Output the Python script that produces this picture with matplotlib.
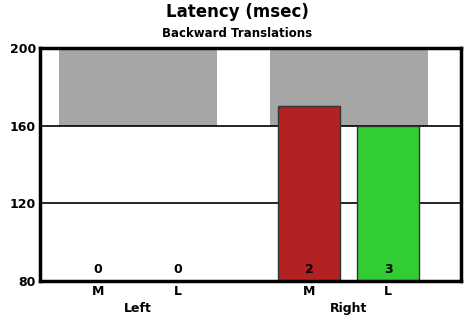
import matplotlib.pyplot as plt
import numpy as np
from matplotlib.transforms import blended_transform_factory

# data
sides = ["Left", "Right"]
tick_labels = ["M", "L", "M", "L"]
latency = [80, 80, 170, 160]
counts = [0, 0, 2, 3]
bar_colors = ["#1a1a1a", "#1a1a1a", "#B22222", "#32CD32"]
norm_low = 160
norm_high = 200

pos = np.array([0, 1, 2.64, 3.63])
group_pos = [0.5, 3.14]

fig = plt.figure(figsize=(4.75, 3.25), dpi=100)
ax = fig.add_axes([0.0842, 0.1354, 0.8863, 0.7169])
plt.rcParams['font.family'] = ['DejaVu Sans']

# normal range bands
for g in group_pos:
    ax.bar(g, norm_high - norm_low, width=1.98, bottom=norm_low, color="#A6A6A6", zorder=1)

for y in [120, 160]:
    ax.axhline(y, color="black", lw=1.2, zorder=2)

heights = [v - 80 for v in latency]
ax.bar(pos, heights, width=0.78, bottom=80, color=bar_colors,
       edgecolor="#333333", linewidth=1, zorder=3)

for p, c in zip(pos, counts):
    ax.text(p, 86, str(c), ha="center", va="center", fontsize=9, fontweight="bold", zorder=4)

ax.set_xlim(-0.725, 4.54)
ax.set_ylim(80, 200)
ax.set_yticks([80, 120, 160, 200])
ax.set_yticklabels(["80", "120", "160", "200"], fontsize=9, fontweight="bold")
ax.set_xticks(pos)
ax.set_xticklabels(tick_labels, fontsize=9, fontweight="bold")
ax.tick_params(length=0, pad=3)
for s in ax.spines.values():
    s.set_linewidth(2.5)
    s.set_color("black")
    s.set_zorder(5)

trans = blended_transform_factory(ax.transData, ax.transAxes)
for g, name in zip(group_pos, sides):
    ax.text(g, -0.12, name, transform=trans, ha="center", va="center", fontsize=9, fontweight="bold")

fig.text(0.5, 0.962, "Latency (msec)", ha="center", va="center", fontsize=12, fontweight="bold")
fig.text(0.5, 0.896, "Backward Translations", ha="center", va="center", fontsize=8.5, fontweight="bold")

fig.savefig("out.png", dpi=100)
